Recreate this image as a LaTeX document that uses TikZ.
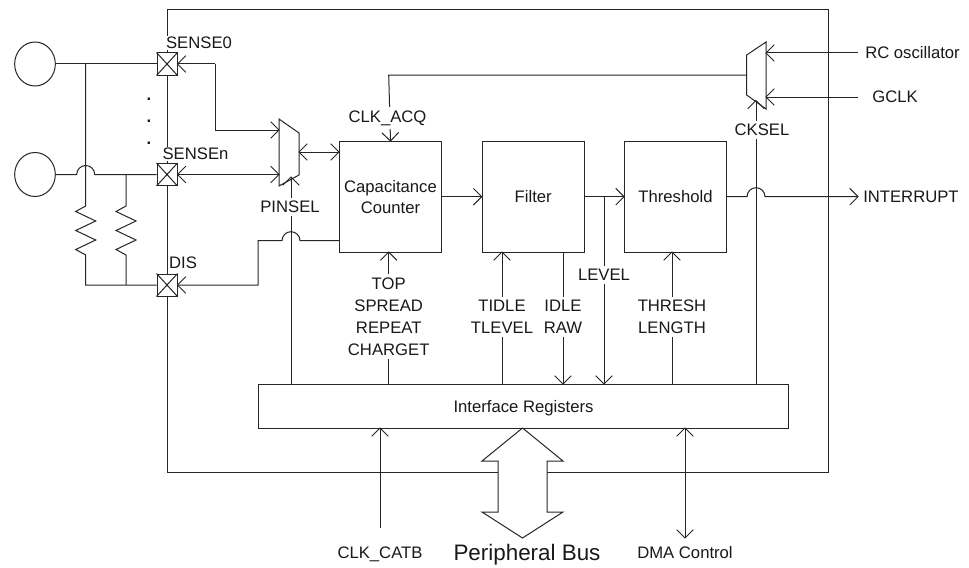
\documentclass[tikz,border=0pt]{standalone}
\usepackage{fontspec}
\setmainfont{Liberation Sans}
\usetikzlibrary{arrows.meta,shapes.geometric}
\pgfdeclarearrow{
  name=VTip,
  parameters={\the\pgfarrowlength},
  setup code={\pgfarrowssettipend{0pt}\pgfarrowssetlineend{-0.4pt}\pgfarrowssetvisualbackend{-\pgfarrowlength}\pgfarrowssetbackend{-\pgfarrowlength}\pgfarrowshullpoint{0pt}{0pt}\pgfarrowssavethe\pgfarrowlength},
  drawing code={\pgfsetdash{}{0pt}\pgfsetmiterjoin\pgfpathmoveto{\pgfqpoint{-\pgfarrowlength}{\pgfarrowlength}}\pgfpathlineto{\pgfqpoint{0pt}{0pt}}\pgfpathlineto{\pgfqpoint{-\pgfarrowlength}{-\pgfarrowlength}}\pgfusepathqstroke},
  defaults={length=6.2pt}
}
\tikzset{
  wire/.style={line width=0.75pt,draw=black!85},
  tip/.style={wire,-{VTip}},
  tiptwo/.style={wire,{VTip}-{VTip}},
  lab/.style={font=\fontsize{12.5}{14}\selectfont,text=black!90,inner sep=0pt,align=center},
  labw/.style={lab,fill=white,inner xsep=1pt,inner ysep=2.5pt},
  block/.style={wire,rectangle,fill=white,inner sep=0pt,lab,draw=black!85},
  pad/.style={wire,rectangle,fill=white,inner sep=0pt,minimum width=15pt,minimum height=16.5pt},
  pin/.style={wire,ellipse,inner sep=0pt,minimum width=30.5pt,minimum height=33pt,fill=white},
}
\begin{document}
\begin{tikzpicture}[x=0.75pt,y=-0.75pt]
\useasboundingbox (0,0) rectangle (969,567);
\fill[white] (0,0) rectangle (969,567);
% main box
\node[block,anchor=north west,minimum width=495.75pt,minimum height=347.25pt] (chip) at (166.7,9) {};
% pins
\node[pin] (c0) at (35,64) {};
\node[pin] (cn) at (35,174.5) {};
\node[pad] (s0) at (167,64) {};
\node[pad] (sn) at (167,174.5) {};
\node[pad] (dis) at (167,285) {};
\draw[wire] (s0.north west)--(s0.south east) (s0.north east)--(s0.south west);
\draw[wire] (sn.north west)--(sn.south east) (sn.north east)--(sn.south west);
\draw[wire] (dis.north west)--(dis.south east) (dis.north east)--(dis.south west);
\node[labw,inner sep=0.5pt] (ls0) at (199,43) {SENSE0};
\node[labw,inner sep=0.5pt] (lsn) at (195.5,154) {SENSEn};
\node[lab] (ldis) at (183,263) {DIS};
\node[lab,font=\fontsize{12.5}{14}\selectfont\bfseries] (d1) at (149,99.5) {.};
\node[lab,font=\fontsize{12.5}{14}\selectfont\bfseries] (d2) at (149,121.5) {.};
\node[lab,font=\fontsize{12.5}{14}\selectfont\bfseries] (d3) at (149,143.5) {.};
% wires from pins
\coordinate (j0) at (85.7,64);
\coordinate (jn) at (126,174.5);
\coordinate (r1t) at (85.7,206);
\coordinate (r1b) at (85.7,262);
\coordinate (r2t) at (126,206);
\coordinate (r2b) at (126,262);
\coordinate (g1) at (85.7,285);
\coordinate (g2) at (126,285);
\draw[wire] (c0.east)--(s0.west);
\draw[wire] (j0)--(r1t) -- ++(-10,5.5) -- ++(20,9.5) -- ++(-20,9.5) -- ++(20,9.5) -- ++(-20,9.5) -- ++(10,5.5)--(r1b)--(g1)--(dis.west);
\draw[wire] (cn.east)--(76.7,174.5) arc[start angle=180,end angle=0,radius=6.75pt]--(sn.west);
\draw[wire] (jn)--(r2t) -- ++(-10,5.5) -- ++(20,9.5) -- ++(-20,9.5) -- ++(20,9.5) -- ++(-20,9.5) -- ++(10,5.5)--(r2b)--(g2);
% blocks
\node[block,anchor=north west,minimum width=76.5pt,minimum height=83.25pt] (cc) at (339,141) {Capacitance\\[2pt]Counter};
\node[block,anchor=north west,minimum width=76.5pt,minimum height=83.25pt] (fi) at (481.7,141) {Filter};
\node[block,anchor=north west,minimum width=76.5pt,minimum height=83.25pt] (th) at (624,141) {Threshold};
\node[block,anchor=north west,minimum width=397.5pt,minimum height=33pt,text height=9pt,text depth=0pt] (ir) at (258,384) {Interface Registers};
% PINSEL mux
\coordinate (m1) at (279,119);\coordinate (m2) at (299,133);\coordinate (m3) at (299,175);\coordinate (m4) at (279,186);
\draw[wire,fill=white] (m1)--(m2)--(m3)--(m4)--cycle;
\coordinate (m1a) at (279,130);\coordinate (m1b) at (279,174.5);\coordinate (m1r) at (299,152);\coordinate (ccl) at (339,152);
\coordinate (m1s) at (291,177);\coordinate (irp) at (291,384);
\coordinate (k0) at (215,64);\coordinate (k1) at (215,130);
\draw[tip] (k0)--(s0.east);
\draw[tip] (k0)--(k1)--(m1a);
\draw[tiptwo] (sn.east)--(m1b);
\draw[tiptwo] (m1r)--(ccl);
\draw[tip] (irp)--(m1s);
\node[labw] (lps) at (290,207) {PINSEL};
\coordinate (k2) at (258,285);\coordinate (k3) at (258,240.7);\coordinate (ccd) at (339,240.7);
\draw[tip] (ccd)--(300,240.7) arc[start angle=0,end angle=180,radius=6.75pt]--(k3)--(k2)--(dis.east);
% CKSEL mux
\coordinate (c1) at (746.7,55);\coordinate (c2) at (766,42);\coordinate (c3) at (766,109);\coordinate (c4) at (746.7,95);
\draw[wire,fill=white] (c1)--(c2)--(c3)--(c4)--cycle;
\coordinate (cko) at (746.7,75);\coordinate (ck1) at (388.7,75);
\coordinate (rc) at (858,53);\coordinate (rct) at (766,53);
\coordinate (gc) at (858,97);\coordinate (gct) at (766,97);
\coordinate (cks) at (756,100.5);\coordinate (irc) at (756,384);
\draw[tip] (cko)--(ck1)--(cc.north);
\node[labw] (lacq) at (387.5,118) {CLK\_ACQ};
\draw[tip] (rc)--(rct);
\draw[tip] (gc)--(gct);
\node[lab,anchor=west] (lrc) at (865,53) {RC oscillator};
\node[lab] (lgc) at (895,97) {GCLK};
\draw[tip] (irc)--(cks);
\node[labw] (lck) at (762,130) {CKSEL};
% data path
\draw[tip] (cc.east |- 0,196.7)--(fi.west |- 0,196.7);
\draw[tip] (fi.east |- 0,196.7)--(th.west |- 0,196.7);
\coordinate (int) at (858,196.7);
\draw[tip] (th.east |- 0,196.7)--(747,196.7) arc[start angle=180,end angle=0,radius=6.75pt]--(int);
\node[lab,anchor=west] (lint) at (863,196.7) {INTERRUPT};
% register links
\coordinate (lv0) at (604,196.7);\coordinate (lv1) at (604,384);
\draw[tip] (lv0)--(lv1);
\node[labw] (llv) at (604,275) {LEVEL};
\coordinate (a1) at (388.7,384);\coordinate (a2) at (388.7,252);
\draw[tip] (a1)--(a2);
\node[labw] (la) at (388.7,316.5) {TOP\\[2.6pt]SPREAD\\[2.6pt]REPEAT\\[2.6pt]CHARGET};
\coordinate (b1) at (502,384);\coordinate (b2) at (502,252);
\draw[tip] (b1)--(b2);
\node[labw] (lb) at (502,317) {TIDLE\\[2.6pt]TLEVEL};
\coordinate (e1) at (563,252);\coordinate (e2) at (563,384);
\draw[tip] (e1)--(e2);
\node[labw] (le) at (563,317) {IDLE\\[2.6pt]RAW};
\coordinate (f1) at (672,384);\coordinate (f2) at (672,252);
\draw[tip] (f1)--(f2);
\node[labw] (lf) at (672,317) {THRESH\\[2.6pt]LENGTH};
% bottom
\coordinate (h1) at (380,528);\coordinate (h2) at (380,428);
\draw[tip] (h1)--(h2);
\node[lab] (lh) at (380,554) {CLK\_CATB};
\coordinate (i1) at (685,428);\coordinate (i2) at (685,538);
\draw[tiptwo] (i1)--(i2);
\node[lab] (li) at (685,553) {DMA Control};
\draw[wire,fill=white,line join=miter] (522.5,428)--(563,461)--(547,461)--(547,512)--(563,512)--(522.5,538)--(482,512)--(498,512)--(498,461)--(482,461)--cycle;
\node[lab,font=\fontsize{16.8}{19}\selectfont,text height=12pt,text depth=0pt] (lbus) at (527,552) {Peripheral Bus};
\end{tikzpicture}
\end{document}
